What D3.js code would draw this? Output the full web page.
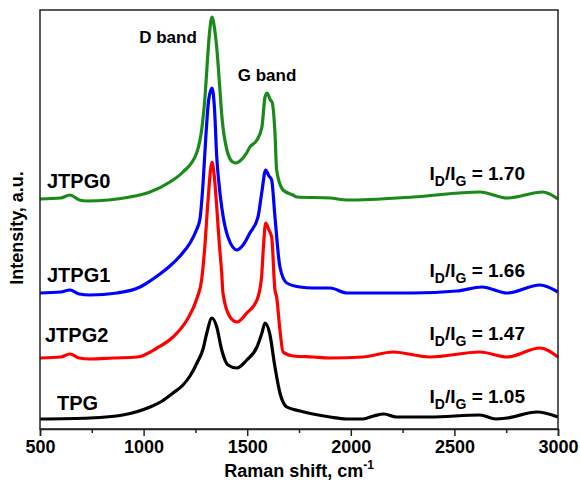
<!DOCTYPE html>
<html>
<head>
<meta charset="utf-8">
<script src="https://cdn.jsdelivr.net/npm/d3@7"></script>
<style>
  body { margin: 0; background: #fff; }
  text { font-family: Arial, "Liberation Sans", sans-serif; font-weight: bold; }
</style>
</head>
<body>
<svg id="chart" width="580" height="486"></svg>
<script>
// Raman spectra, [shift cm-1, intensity a.u.]
const tpg = [[500,9],[741,10],[900,13],[1031,21],[1090,27],[1142,35],[1190,43],[1224,52],[1260,66],[1287,79],[1305,95],[1330,110],[1353,101],[1377,78],[1407,63],[1450,60],[1498,68],[1547,81],[1571,95],[1586,105],[1608,95],[1634,61],[1658,35],[1691,21],[1755,17],[1817,14],[1900,11],[1980,9],[2059,9],[2110,12],[2160,14],[2220,11],[2382,11],[2623,13],[2700,9],[2754,10],[2899,16],[3000,11]]
const jtpg2 = [[500,70],[600,71],[645,74],[690,70],[741,69],[853,70],[969,71],[1065,80],[1142,91],[1209,108],[1258,130],[1280,148],[1295,180],[1310,225],[1330,266],[1342,250],[1353,221],[1365,185],[1377,155],[1383,135],[1417,111],[1451,106],[1498,115],[1547,128],[1569,150],[1578,180],[1589,205],[1605,198],[1618,191],[1634,138],[1642,131],[1658,98],[1673,76],[1721,72],[1817,71],[1900,70],[2059,71],[2204,76],[2382,71],[2623,76],[2754,71],[2913,80],[3000,71]]
const jtpg1 = [[500,135],[600,136],[645,138],[690,134],[741,133],[872,135],[983,141],[1031,147],[1079,154],[1127,162],[1176,172],[1224,185],[1255,198],[1272,209],[1287,245],[1300,290],[1314,328],[1330,340],[1342,320],[1353,271],[1366,240],[1377,221],[1407,191],[1451,178],[1480,183],[1513,195],[1552,211],[1570,235],[1589,258],[1605,252],[1618,248],[1634,211],[1658,161],[1691,145],[1755,141],[1817,140],[1900,140],[1982,135],[2300,135],[2512,137],[2633,141],[2754,135],[2913,143],[3000,136]]
const jtpg0 = [[500,229],[600,230],[645,233],[690,228],[727,227],[934,231],[1031,236],[1127,246],[1190,256],[1256,275],[1282,301],[1296,330],[1306,361],[1318,395],[1330,411],[1342,400],[1354,378],[1366,345],[1378,311],[1402,278],[1430,266],[1446,265],[1465,267],[1497,275],[1513,281],[1547,288],[1571,301],[1586,331],[1596,335],[1612,328],[1620,326],[1634,295],[1642,258],[1673,238],[1721,233],[1740,231],[1900,230],[1982,228],[2300,231],[2623,236],[2754,230],[2927,236],[3000,229]]

const seriesNames = ['TPG', 'JTPG2', 'JTPG1', 'JTPG0']
const seriesData = [tpg, jtpg2, jtpg1, jtpg0]
const seriesColors = ['#000000', '#ff0000', '#0000ff', '#1a8a1a']
const ratios = ['1.05', '1.47', '1.66', '1.70']

const majorTicks = [500, 1000, 1500, 2000, 2500, 3000]
const minorTicks = [750, 1250, 1750, 2250, 2750]

const svg = d3.select('#chart')
const W = 580, H = 486
const plotL = 40, plotR = 558, plotT = 10, plotB = 429

const x = d3.scaleLinear().domain([500, 3000]).range([plotL, plotR])
const y = d3.scaleLinear().domain([0, 418]).range([plotB - 1, plotT])

svg.append('rect').attr('width', W).attr('height', H).attr('fill', '#fff')

const line = d3.line()
  .x(d => x(d[0]))
  .y(d => y(d[1]))
  .curve(d3.curveMonotoneX)

svg.selectAll('path.spec')
  .data(seriesData)
  .enter().append('path')
    .attr('class', 'spec')
    .attr('d', line)
    .attr('fill', 'none')
    .attr('stroke', (d, i) => seriesColors[i])
    .attr('stroke-width', 3.2)
    .attr('stroke-linejoin', 'round')

// frame
svg.append('rect')
  .attr('x', plotL).attr('y', plotT)
  .attr('width', plotR - plotL).attr('height', plotB - plotT)
  .attr('fill', 'none').attr('stroke', '#222').attr('stroke-width', 1.5)

// x axis
const gx = svg.append('g').attr('transform', 'translate(0,' + plotB + ')')
  .call(d3.axisBottom(x).tickValues(majorTicks).tickSize(7).tickPadding(4).tickFormat(d3.format('d')))
gx.select('.domain').attr('stroke', '#222').attr('stroke-width', 1.5)
gx.selectAll('.tick line').attr('stroke', '#222').attr('stroke-width', 1.5)
gx.selectAll('.tick text').attr('font-size', 18).attr('fill', '#000')
  .attr('font-family', 'Arial, "Liberation Sans", sans-serif').attr('font-weight', 'bold')

const gm = svg.append('g').attr('transform', 'translate(0,' + plotB + ')')
  .call(d3.axisBottom(x).tickValues(minorTicks).tickSize(4).tickFormat(''))
gm.select('.domain').remove()
gm.selectAll('.tick line').attr('stroke', '#222').attr('stroke-width', 1.5)

// axis titles
const xt = svg.append('text').attr('x', (plotL + plotR) / 2).attr('y', 477)
  .attr('text-anchor', 'middle').attr('font-size', 18)
xt.append('tspan').text('Raman shift, cm')
xt.append('tspan').attr('font-size', 12).attr('dy', -8).text('-1')

svg.append('text')
  .attr('transform', 'translate(23,' + 228 + ') rotate(-90)')
  .attr('text-anchor', 'middle').attr('font-size', 18)
  .text('Intensity, a.u.')

// band labels
svg.append('text').attr('x', 168).attr('y', 43).attr('text-anchor', 'middle')
  .attr('font-size', 17).text('D band')
svg.append('text').attr('x', 267).attr('y', 81).attr('text-anchor', 'middle')
  .attr('font-size', 17).text('G band')

// sample names and ratios
const nameX = [57, 45, 47, 47]
const nameY = [410, 342, 282, 188]
const ratioY = [403, 340, 277, 180]

seriesNames.forEach((n, i) => {
  svg.append('text').attr('x', nameX[i]).attr('y', nameY[i])
    .attr('font-size', 20).text(n)
  const t = svg.append('text').attr('x', 525).attr('y', ratioY[i])
    .attr('text-anchor', 'end').attr('font-size', 19)
  t.append('tspan').text('I')
  t.append('tspan').attr('font-size', 14).attr('dy', 6).text('D')
  t.append('tspan').attr('dy', -6).text('/I')
  t.append('tspan').attr('font-size', 14).attr('dy', 6).text('G')
  t.append('tspan').attr('dy', -6).text(' = ' + ratios[i])
})
</script>
</body>
</html>
